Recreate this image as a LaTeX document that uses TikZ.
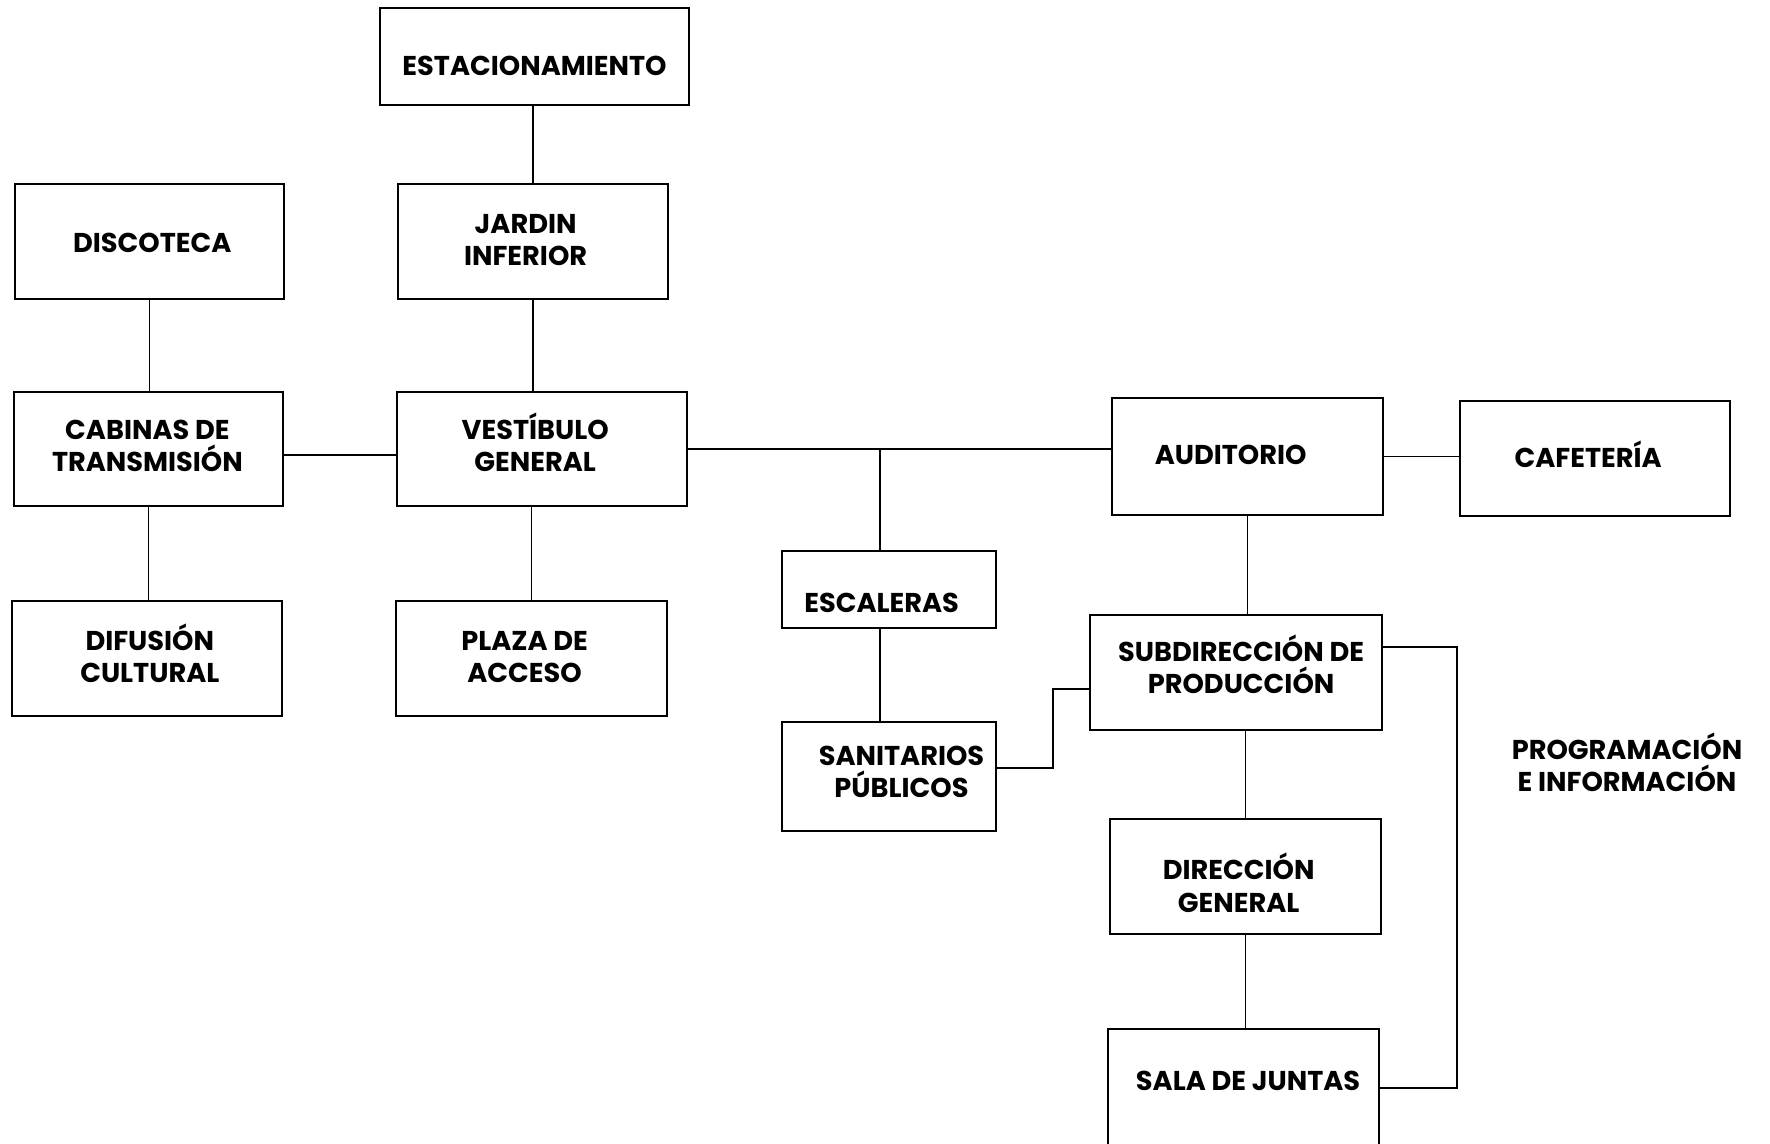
\documentclass[tikz,border=0pt]{standalone}
\usepackage{fontspec}
\usepackage{array}
\setmainfont{Poppins}
\usetikzlibrary{positioning}

% text moved inside its box: x shift, lift, lines (accents do not widen the line gap)
\newcommand{\nudge}[3]{\raisebox{#2}[\height][\depth]{\hspace*{#1}\begin{tabular}{@{}>{\setbox0\hbox\bgroup}c<{\egroup\smash{\box0}}@{}}#3\end{tabular}\hspace*{-#1}}}

\tikzset{
  box/.style={draw, line width=1.1pt, inner sep=0pt,
    font=\bfseries\fontsize{15.5}{18.4}\selectfont},
  link/.style={line width=1.1pt}
}

\begin{document}
\begin{tikzpicture}[x=0.02cm, y=-0.02cm]
\useasboundingbox (0,0) rectangle (1770,1143);

%Left wing
\node[box, minimum width=6.18cm, minimum height=1.94cm] (est) at (534.5,56.5) {\nudge{0pt}{-7.4pt}{ESTACIONAMIENTO}};
\node[box, minimum width=5.38cm, minimum height=2.3cm] (disc) at (149.5,241.5) {\nudge{1.6pt}{-2.3pt}{DISCOTECA}};
\node[box, minimum width=5.4cm, minimum height=2.3cm] (jard) at (533,241.5) {\nudge{-4.2pt}{-0.7pt}{JARDIN\\INFERIOR}};
\node[box, minimum width=5.38cm, minimum height=2.28cm] (cab) at (148.5,449) {\nudge{-0.6pt}{0pt}{CABINAS DE\\TRANSMISIÓN}};
\node[box, minimum width=5.8cm, minimum height=2.28cm] (vest) at (542,449) {\nudge{-3.9pt}{0pt}{VESTÍBULO\\GENERAL}};
\node[box, minimum width=5.4cm, minimum height=2.3cm] (dif) at (147,658.5) {\nudge{1.6pt}{-0.7pt}{DIFUSIÓN\\CULTURAL}};
\node[box, minimum width=5.42cm, minimum height=2.3cm] (plaza) at (531.5,658.5) {\nudge{-3.9pt}{-0.7pt}{PLAZA DE\\ACCESO}};

%Right wing
\node[box, minimum width=5.42cm, minimum height=2.34cm] (aud) at (1247.5,456.5) {\nudge{-9.6pt}{-0.7pt}{AUDITORIO}};
\node[box, minimum width=5.4cm, minimum height=2.3cm] (caf) at (1595,458.5) {\nudge{-3.9pt}{-1.6pt}{CAFETERÍA}};
\node[box, minimum width=4.28cm, minimum height=1.54cm] (esc) at (889,589.5) {\nudge{-4.2pt}{-9.4pt}{ESCALERAS}};
\node[box, minimum width=4.28cm, minimum height=2.18cm] (san) at (889,776.5) {\nudge{7.1pt}{0.9pt}{SANITARIOS\\PÚBLICOS}};
\node[box, minimum width=5.84cm, minimum height=2.3cm] (sub) at (1236,672.5) {\nudge{2.9pt}{0.9pt}{SUBDIRECCIÓN DE\\PRODUCCIÓN}};
\node[box, minimum width=5.42cm, minimum height=2.3cm] (dir) at (1245.5,876.5) {\nudge{-3.9pt}{-7.4pt}{DIRECCIÓN\\GENERAL}};
\node[box, minimum width=5.42cm, minimum height=2.38cm] (sala) at (1243.5,1088.5) {\nudge{2.6pt}{2.5pt}{SALA DE JUNTAS}};

\node[align=center, font=\bfseries\fontsize{15.5}{18.4}\selectfont] (prog) at (1627,762) {PROGRAMACIÓN\\E INFORMACIÓN};

// Links
\foreach \a/\b in {jard/vest, disc/cab, cab/dif, aud/sub, dir/sala}
\draw[link] (\a.south) -- (\a.south |- \b.north);
\foreach \a/\b in {est/jard, vest/plaza, sub/dir}
\draw[link] (\b.north) -- (\b.north |- \a.south);

\draw[link] ([yshift=-0.12cm]cab.east) -- ([yshift=-0.12cm]cab.east -| vest.west);
\draw[link] (vest.east) -- (vest.east -| aud.west);
\draw[link] (aud.east) -- (aud.east -| caf.west);

\coordinate (jesc) at (880,449);
\draw[link] (jesc) -- (jesc |- esc.north);
\draw[link] (jesc |- esc.south) -- (jesc |- san.north);

\coordinate (k1) at (1053,768);
\coordinate (k2) at (1053,689);
\draw[link] (k1 -| san.east) -- (k1) -- (k2) -- (k2 -| sub.west);

\coordinate (p1) at (1457,647);
\coordinate (p2) at (1457,1088);
\draw[link] (p1 -| sub.east) -- (p1) -- (p2) -- (p2 -| sala.east);

\end{tikzpicture}
\end{document}
